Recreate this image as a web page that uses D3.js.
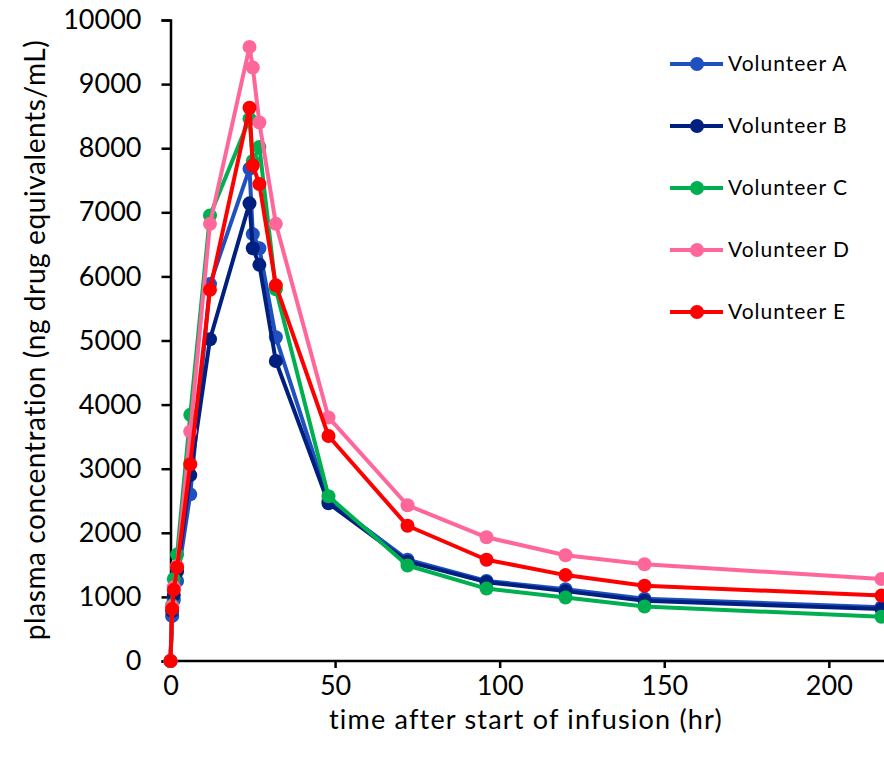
<!DOCTYPE html>
<html>
<head>
<meta charset="utf-8">
<script src="https://cdn.jsdelivr.net/npm/d3@7"></script>
<style>
  body { margin: 0; background: #fff; }
  text { font-family: Lato, "Open Sans", sans-serif; fill: #000; }
</style>
</head>
<body>
<div id="chart"></div>
<script>
// sampling times (hr after start of infusion)
var times = [0, 0.5, 1, 2, 6, 12, 24, 25, 27, 32, 48, 72, 96, 120, 144, 216];

// plasma concentration per volunteer (ng drug equivalents/mL)
var volA = [0, 700, 950, 1250, 2600, 5880, 7680, 6660, 6440, 5050, 2500, 1580, 1250, 1120, 970, 840];
var volB = [0, 780, 1030, 1400, 2900, 5020, 7140, 6440, 6180, 4680, 2460, 1550, 1230, 1090, 940, 810];
var volC = [0, 870, 1280, 1660, 3840, 6950, 8460, 7800, 8020, 5800, 2570, 1490, 1130, 990, 850, 690];
var volD = [0, 850, 1150, 1480, 3580, 6820, 9580, 9260, 8400, 6820, 3800, 2430, 1930, 1650, 1510, 1280];
var volE = [0, 810, 1110, 1460, 3070, 5790, 8630, 7730, 7440, 5860, 3510, 2110, 1580, 1340, 1175, 1020];

var names = ["Volunteer A", "Volunteer B", "Volunteer C", "Volunteer D", "Volunteer E"];
var colors = ["#1f4fc0", "#002080", "#00b050", "#ff6699", "#ff0000"];

var xTicks = [0, 50, 100, 150, 200];
var yTicks = [0, 1000, 2000, 3000, 4000, 5000, 6000, 7000, 8000, 9000, 10000];

var series = [volA, volB, volC, volD, volE].map(function(vals, i) {
  return {
    name: names[i],
    color: colors[i],
    points: vals.map(function(v, j) { return { t: times[j], c: v }; })
  };
});

var width = 884, height = 764;

var svg = d3.select("#chart")
  .append("svg")
  .attr("width", width)
  .attr("height", height);

var x = d3.scaleLinear().domain([0, 216]).range([170.5, 881.5]);
var y = d3.scaleLinear().domain([0, 10000]).range([661, 20]);

// axes
var xAxis = svg.append("g")
  .attr("transform", "translate(0," + y(0) + ")")
  .call(d3.axisBottom(x).tickValues(xTicks).tickSize(7).tickPadding(8).tickFormat(d3.format("d")));
xAxis.select(".domain").attr("d", "M" + x(0) + ",0H" + width);

var yAxis = svg.append("g")
  .attr("transform", "translate(" + x(0) + ",0)")
  .call(d3.axisLeft(y).tickValues(yTicks).tickSize(9).tickPadding(20).tickFormat(d3.format("d")));

svg.selectAll(".domain, .tick line")
  .attr("stroke", "#000")
  .attr("stroke-width", 2.5);

svg.selectAll(".tick text")
  .style("font-size", "27px")
  .style("font-family", "Lato, sans-serif");

// axis titles
svg.append("text")
  .attr("x", 526)
  .attr("y", 729)
  .attr("text-anchor", "middle")
  .style("font-size", "27px")
  .style("letter-spacing", "1.2px")
  .text("time after start of infusion (hr)");

svg.append("text")
  .attr("transform", "translate(45,340) rotate(-90)")
  .attr("text-anchor", "middle")
  .style("font-size", "28px")
  .style("letter-spacing", "0.6px")
  .text("plasma concentration (ng drug equivalents/mL)");

// lines + markers
var line = d3.line()
  .x(function(d) { return x(d.t); })
  .y(function(d) { return y(d.c); });

var g = svg.selectAll(".series")
  .data(series)
  .enter()
  .append("g")
  .attr("class", "series");

g.append("path")
  .attr("d", function(d) { return line(d.points); })
  .attr("fill", "none")
  .attr("stroke", function(d) { return d.color; })
  .attr("stroke-width", 4)
  .attr("stroke-linejoin", "round");

g.selectAll("circle")
  .data(function(d) { return d.points.map(function(p) { return { t: p.t, c: p.c, color: d.color }; }); })
  .enter()
  .append("circle")
  .attr("cx", function(d) { return x(d.t); })
  .attr("cy", function(d) { return y(d.c); })
  .attr("r", 7)
  .attr("fill", function(d) { return d.color; });

// legend
var legend = svg.selectAll(".legend")
  .data(series)
  .enter()
  .append("g")
  .attr("class", "legend")
  .attr("transform", function(d, i) { return "translate(670," + (64 + i * 62) + ")"; });

legend.append("line")
  .attr("x1", 0).attr("x2", 53)
  .attr("stroke", function(d) { return d.color; })
  .attr("stroke-width", 4);

legend.append("circle")
  .attr("cx", 27)
  .attr("r", 7)
  .attr("fill", function(d) { return d.color; });

legend.append("text")
  .attr("x", 58)
  .attr("dy", "0.35em")
  .style("font-size", "21px")
  .style("letter-spacing", "1px")
  .text(function(d) { return d.name; });
</script>
</body>
</html>
